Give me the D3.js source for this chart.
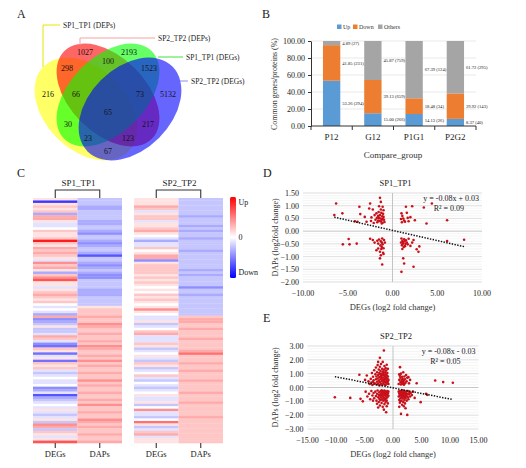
<!DOCTYPE html>
<html>
<head>
<meta charset="utf-8">
<script src="https://cdn.jsdelivr.net/npm/d3@7"></script>
<style>
  body { margin: 0; background: #fff; }
  svg { display: block; font-family: "Liberation Serif", "Times New Roman", serif; }
</style>
</head>
<body>
<script>
// ---------- A: venn ----------
var vennSets = ["SP1_TP1 (DEPs)", "SP2_TP2 (DEPs)", "SP1_TP1 (DEGs)", "SP2_TP2 (DEGs)"];
// membership flags in order yellow, red, green, blue
var vennKeys   = ["1000", "0100", "0010", "0001", "1100", "0110", "0011", "1010", "1110", "0111", "1111", "1011", "0101", "1101", "1001"];
var vennCounts = [216, 1027, 2193, 5132, 298, 100, 1523, 30, 66, 73, 65, 23, 217, 123, 67];

// ---------- B: stacked bars ----------
var groups    = ["P12", "G12", "P1G1", "P2G2"];
var upPct     = [53.26, 15.00, 14.13, 8.37];
var upN       = [294, 266, 26, 40];
var downPct   = [41.85, 39.13, 18.48, 29.92];
var downN     = [231, 659, 34, 143];
var othersPct = [4.89, 45.87, 67.39, 61.72];
var othersN   = [27, 759, 124, 295];
var pctTicks  = [0, 20, 40, 60, 80, 100];

// ---------- C: heatmaps (log2 fold change levels) ----------
var sp1DEGs = [1,-7,1,2,1,2,-3,3,3,1, -1,-1,0,2,1,1,2,8,2,1, 3,2,3,2,1,-1,4,2,3,1, -3,2,4,6,1,1,-1,1,2,3,
               2,1,2,0,-1,0,-1,-3,3,-4, -3,-2,1,-2,-2,-1,3,2,-1,-4, -5,2,1,-5,-1,1,-5,2,1,2, -1,-2,-1,0,-1,-1,0,-4,-3,-1,
               -6,-3,-2,-1,0,-1,1,-1,-2,-1, 1,-2,4,3,-2,2,1,-1,1,6];
var sp1DAPs = [-2,-2,-2,-3,-3,-2,-2,-2,-2,-3, -3,-2,-2,-3,-4,-2,-2,-3,-4,-3, -2,-2,-3,-6,-2,-2,-3,-4,-3,-2,
               -3,-4,-4,-2,-2,-2,-2,-3,-3,-3, -2,-2,-2,-2, 1,2,2,2,3,2,2,4, 3,2,2,3,2,2,3,2,4,3,
               2,2,3,2,4,2,3,2,2,3, 2,2,4,2,3,2,2,3,2,2, 3,2,4,2,2,3,2,2,4,3, 2,3,2,2,3,2,2,3];
var sp2DEGs = [1,1,1,3,2,-1,1,2,2,-1, 1,1,2,3,1,0,-1,-3,-1,-1, 2,0,1,3,3,-4,1,2,2,2, 2,1,2,1,2,1,0,1,0,2,
               1,2,1,0,1,4,1,0,-1,-1, 1,-2,-1,0,2,3,-1,-1,-1,2, 1,-2,-1,0,1,-1,-2,2,1,-2, -1,0,2,-1,-2,0,-1,-2,-1,0,
               1,-1,-1,1,-2,0,4,-1,-1,-2, 0,5,1,-2,-1,2,3,-1,1,1];
var sp2DAPs = [-2,-2,-2,-2,-2,-2,-2,-3,-2,-2, -2,-3,-2,-3,-2,-2,-3,-2,-2,-2, -2,-3,-2,-2,-2,-2,-2,-2,-2,-3,
               -2,-3,-2,-2,-2,-2,-4,-2,-2,-3, -2,-2,-2,-2,-2,-2,-2,-2, 2,3,3,2,2,3,2,2,2,3,
               2,2,2,2,3,5,2,2,2,3, 2,2,3,2,2,2,3,2,2,2, 2,3,2,2,2,3,2,2,2,2, 2,3,2,2,2,2,2,2,2,2, 2,2];

// ---------- D / E: scatter (DEGs log2FC, DAPs log2FC) ----------
var sp1Points = [
  [-6.3,1.09],[-6.5,0.63],[-5.6,0.70],[-4.2,0.39],[-3.9,0.37],[-3.6,0.67],[-3.7,0.96],[-2.5,1.09],[-2.6,0.89],[-2.2,0.85],
  [-2.9,0.37],[-3.1,0.56],[-2.35,0.54],[-2.0,0.63],[-1.4,1.31],[-1.3,1.15],[-1.5,0.98],[-1.1,0.96],[-1.8,0.70],[-1.4,0.63],
  [-1.0,0.56],[-1.2,0.45],[-1.6,0.42],[-1.3,0.38],[-1.1,0.33],[-1.5,0.52],[-1.7,0.35],[-1.25,0.72],[-1.05,0.68],[-0.95,0.45],
  [-1.35,0.50],[-1.15,0.58],[-1.45,0.40],[-1.0,0.82],[-1.6,0.60],[-1.9,0.45],[-2.1,0.32],[-1.2,0.30],[-0.9,0.36],[-1.3,0.85],
  [-1.55,0.75],[-1.75,0.52],[-2.4,0.40],[-1.1,0.48],
  [1.5,0.96],[2.2,0.98],[1.0,0.70],[1.6,0.72],[1.2,0.50],[1.8,0.39],[1.4,0.37],[2.5,0.43],[3.8,0.30],[6.1,0.43],
  [4.4,1.09],[3.5,0.93],[1.1,0.60],[1.3,0.42],[2.0,0.55],[1.05,0.35],[0.95,0.48],[1.7,0.52],
  [-5.55,-0.52],[-4.9,-0.31],[-4.8,-0.52],[-4.0,-0.49],[-2.2,-0.35],[-2.0,-0.45],[-1.6,-0.49],[-1.8,-0.75],[-1.4,-0.81],[-1.2,-0.62],
  [-1.15,-0.29],[-1.4,-1.07],[-1.15,-1.31],[-1.0,-0.67],[-0.85,-0.45],[-1.3,-0.40],[-1.5,-0.33],[-1.1,-0.52],[-1.25,-0.70],[-1.05,-0.85],
  [-1.7,-0.38],[-1.35,-0.56],[-0.95,-0.35],[-1.2,-0.45],[-2.5,-0.30],[-1.6,-0.68],[-1.0,-0.90],[-1.3,-0.95],
  [1.0,-0.29],[1.2,-0.49],[1.6,-0.45],[1.4,-0.59],[2.35,-0.35],[2.0,-0.58],[2.7,-0.71],[2.9,-0.81],[3.0,-0.60],[1.2,-1.07],
  [1.3,-1.27],[1.0,-1.60],[2.35,-1.40],[6.1,-0.39],[8.0,-0.34],[1.1,-0.38],[1.3,-0.32],[1.05,-0.55],[1.5,-0.36],[1.15,-0.44],
  [1.25,-0.62],[1.7,-0.52],[1.35,-0.40],[0.95,-0.45],[1.8,-0.30],[1.1,-0.70],[2.2,-0.45],[1.45,-0.50]
];
var sp2Points = [
  [-4.6,0.87],[-4.3,0.45],[-4.1,0.25],[-3.9,0.62],[-3.8,0.35],[-3.7,1.05],[-3.6,0.18],[-3.5,0.78],[-3.4,0.52],[-3.3,1.25],
  [-3.2,0.30],[-3.1,0.95],[-3.0,0.60],[-3.0,1.45],[-2.9,0.22],[-2.9,0.80],[-2.8,1.10],[-2.8,0.42],[-2.7,0.65],[-2.7,1.62],
  [-2.6,0.28],[-2.6,0.90],[-2.5,1.30],[-2.5,0.50],[-2.4,0.15],[-2.4,0.75],[-2.4,1.05],[-2.3,2.15],[-2.3,0.38],[-2.3,1.50],
  [-2.2,0.60],[-2.2,0.95],[-2.2,1.20],[-2.1,0.25],[-2.1,0.82],[-2.1,1.70],[-2.0,0.45],[-2.0,1.00],[-2.0,0.68],[-1.9,1.35],
  [-1.9,0.20],[-1.9,0.88],[-1.8,0.55],[-1.8,1.15],[-1.8,1.85],[-1.7,0.32],[-1.7,0.72],[-1.7,1.02],[-1.6,2.68],[-1.6,0.48],
  [-1.6,1.28],[-1.6,0.90],[-1.5,0.22],[-1.5,0.62],[-1.5,1.55],[-1.4,0.40],[-1.4,0.80],[-1.4,1.10],[-1.3,0.18],[-1.3,0.58],
  [-1.3,0.95],[-1.3,1.40],[-1.2,0.35],[-1.2,0.70],[-1.2,1.22],[-1.1,0.50],[-1.1,0.88],[-1.1,1.65],[-1.0,0.28],[-1.0,0.65],
  [-1.0,1.05],[-0.9,0.42],[-0.9,0.80],[-0.9,1.35],[-0.8,0.55],[-0.8,0.25],[-5.9,0.92],[-4.9,0.55],[-2.6,1.85],[-3.5,0.40],
  [-10.2,-0.70],[-7.5,-0.75],[-5.7,-0.82],[-5.3,-1.00],[-4.8,-0.30],[-4.5,-0.65],[-4.2,-0.45],[-4.0,-0.85],[-3.8,-0.25],[-3.6,-0.58],
  [-3.4,-0.40],[-3.3,-0.78],[-3.1,-0.30],[-3.0,-0.62],[-2.9,-0.95],[-2.8,-1.18],[-2.8,-0.45],[-2.7,-0.22],[-2.6,-0.70],[-2.5,-0.52],
  [-2.5,-1.05],[-2.4,-0.35],[-2.4,-0.82],[-2.3,-1.30],[-2.3,-0.60],[-2.2,-0.28],[-2.2,-0.92],[-2.1,-0.48],[-2.1,-0.72],[-2.0,-0.20],
  [-2.0,-1.12],[-2.0,-0.58],[-1.9,-0.38],[-1.9,-0.85],[-1.8,-0.65],[-1.8,-0.25],[-1.8,-1.40],[-1.7,-0.50],[-1.7,-0.95],[-1.6,-0.32],
  [-1.6,-0.75],[-1.5,-0.55],[-1.5,-1.20],[-1.5,-0.22],[-1.4,-0.42],[-1.4,-0.88],[-1.3,-0.62],[-1.3,-0.30],[-1.3,-1.05],[-1.2,-1.79],
  [-1.2,-0.48],[-1.2,-0.78],[-1.1,-0.35],[-1.1,-0.95],[-1.1,-1.35],[-1.0,-0.55],[-1.0,-0.25],[-1.0,-0.70],[-0.9,-0.42],[-0.9,-1.15],
  [-0.8,-0.60],[-0.8,-0.30],[-3.5,-0.95],[-2.6,-1.45],[-1.6,-1.60],
  [1.0,0.25],[1.1,0.55],[1.2,0.85],[1.23,1.47],[1.3,0.40],[1.3,0.70],[1.4,0.22],[1.4,1.00],[1.5,0.55],[1.5,0.32],
  [1.6,0.78],[1.6,0.45],[1.7,0.28],[1.7,0.62],[1.8,1.10],[1.8,0.38],[1.9,0.50],[2.0,0.80],[2.0,0.25],[2.1,0.60],
  [2.2,0.35],[2.3,0.90],[2.4,0.45],[2.5,0.70],[2.7,0.75],[2.8,0.30],[3.0,0.55],[4.15,0.31],[7.4,0.51],[8.8,0.39],
  [10.5,0.34],[1.1,0.95],[1.9,0.20],
  [1.0,-0.30],[1.0,-0.65],[1.1,-0.45],[1.1,-0.90],[1.2,-0.25],[1.2,-0.60],[1.2,-1.10],[1.3,-0.40],[1.3,-0.78],[1.4,-1.91],
  [1.4,-0.52],[1.4,-0.30],[1.5,-0.95],[1.5,-0.68],[1.6,-0.38],[1.6,-0.55],[1.6,-1.25],[1.7,-0.22],[1.7,-0.80],[1.8,-0.48],
  [1.8,-0.62],[1.8,-1.05],[1.9,-0.35],[1.9,-0.72],[2.0,-0.50],[2.0,-0.90],[2.0,-0.28],[2.1,-0.65],[2.1,-1.15],[2.2,-0.42],
  [2.2,-0.78],[2.3,-0.55],[2.3,-0.30],[2.4,-0.95],[2.4,-0.62],[2.5,-1.98],[2.5,-0.45],[2.6,-0.70],[2.6,-0.25],[2.7,-0.85],
  [2.8,-0.50],[2.9,-0.35],[3.0,-0.65],[3.1,-0.40],[3.3,-0.55],[3.5,-0.30],[4.85,-1.06],[6.0,-0.53],[5.8,-0.45],[1.1,-1.40],
  [1.3,-1.00],[1.9,-1.35],[2.2,-1.50],[1.6,-0.20],[3.8,-0.75]
];
var sp1Fit = [-0.08, 0.03], sp1R2 = 0.09;
var sp2Fit = [-0.08, -0.03], sp2R2 = 0.05;
var sp1XTicks = [-10, -5, 0, 5, 10];
var sp1YTicks = [-2, -1.5, -1, -0.5, 0, 0.5, 1, 1.5];
var sp2XTicks = [-15, -10, -5, 0, 5, 10, 15];
var sp2YTicks = [-3, -2, -1, 0, 1, 2, 3];

var fmt2 = d3.format(".2f");
var serif = "'Liberation Serif', 'Times New Roman', serif";

var svg = d3.select("body").append("svg")
    .attr("width", 526)
    .attr("height", 468)
    .attr("font-family", serif);

// panel letters
[["A", 17, 18], ["B", 262, 18], ["C", 17, 177], ["D", 263, 177], ["E", 263, 322]].forEach(function(l) {
  svg.append("text").attr("x", l[1]).attr("y", l[2])
     .attr("font-size", 12).attr("fill", "#222").text(l[0]);
});

// ===== A =====
var ells = [
  {cx: 86,  cy: 109, a: 60, b: 41, rot: 45,  col: "#ffff00"},
  {cx: 108, cy: 95,  a: 62, b: 38, rot: 45,  col: "#ff0000"},
  {cx: 108, cy: 95,  a: 62, b: 38, rot: -45, col: "#00ff00"},
  {cx: 130, cy: 109, a: 60, b: 41, rot: -45, col: "#0000ff"}
];
var gA = svg.append("g");
gA.selectAll("ellipse").data(ells).enter().append("ellipse")
  .attr("cx", 0).attr("cy", 0)
  .attr("rx", function(d) { return d.a; })
  .attr("ry", function(d) { return d.b; })
  .attr("transform", function(d) { return "translate(" + d.cx + "," + d.cy + ") rotate(" + d.rot + ")"; })
  .attr("fill", function(d) { return d.col; })
  .attr("fill-opacity", 0.6);

function inside(e, x, y) {
  var t = e.rot * Math.PI / 180, dx = x - e.cx, dy = y - e.cy;
  var u = dx * Math.cos(t) + dy * Math.sin(t), v = -dx * Math.sin(t) + dy * Math.cos(t);
  return (u * u) / (e.a * e.a) + (v * v) / (e.b * e.b) <= 1;
}
// place each count at the deepest point of its region (chamfer distance on a grid)
var GX0 = 20, GY0 = 30, GW = 180, GH = 145;
var keyAt = [], dist = [];
for (var j = 0; j < GH; j++) {
  for (var i = 0; i < GW; i++) {
    keyAt.push(ells.map(function(e) { return inside(e, GX0 + i, GY0 + j) ? "1" : "0"; }).join(""));
  }
}
for (var n = 0; n < GW * GH; n++) {
  var ci = n % GW, cj = Math.floor(n / GW), edge = ci === 0 || cj === 0 || ci === GW - 1 || cj === GH - 1;
  if (!edge) edge = keyAt[n - 1] !== keyAt[n] || keyAt[n + 1] !== keyAt[n] || keyAt[n - GW] !== keyAt[n] || keyAt[n + GW] !== keyAt[n];
  dist.push(edge ? 0 : 1e9);
}
function relax(n, m, w) { if (dist[m] + w < dist[n]) dist[n] = dist[m] + w; }
for (var j = 1; j < GH - 1; j++) for (var i = 1; i < GW - 1; i++) {
  var n = j * GW + i;
  relax(n, n - 1, 1); relax(n, n - GW, 1); relax(n, n - GW - 1, 1.414); relax(n, n - GW + 1, 1.414);
}
for (var j = GH - 2; j > 0; j--) for (var i = GW - 2; i > 0; i--) {
  var n = j * GW + i;
  relax(n, n + 1, 1); relax(n, n + GW, 1); relax(n, n + GW + 1, 1.414); relax(n, n + GW - 1, 1.414);
}
var best = {};
keyAt.forEach(function(k, n) {
  if (!best[k] || dist[n] > best[k].d) best[k] = {d: dist[n], x: GX0 + n % GW, y: GY0 + Math.floor(n / GW)};
});
gA.selectAll("text.cnt").data(vennKeys).enter().append("text")
  .attr("class", "cnt")
  .attr("x", function(k) { return best[k].x; })
  .attr("y", function(k) { return best[k].y + 3; })
  .attr("text-anchor", "middle").attr("font-size", 8).attr("fill", "#151515")
  .text(function(k, i) { return vennCounts[i]; });

var leaders = [
  {path: "M60,25H43V67", col: "#e6e600", tx: 63, ty: 28},
  {path: "M155,38H80V45", col: "#f4a3a3", tx: 158, ty: 41},
  {path: "M158,57H183", col: "#3ee03e", tx: 186, ty: 60},
  {path: "M180,81H188", col: "#8c8cf2", tx: 191, ty: 84}
];
leaders.forEach(function(l, i) {
  gA.append("path").attr("d", l.path).attr("fill", "none").attr("stroke", l.col).attr("stroke-width", 1);
  gA.append("text").attr("x", l.tx).attr("y", l.ty).attr("font-size", 7.5).attr("fill", "#222").text(vennSets[i]);
});

// ===== B =====
var gB = svg.append("g");
var bx = d3.scaleBand().domain(groups).range([311, 476]).paddingInner(0.58).paddingOuter(0.29);
var by = d3.scaleLinear().domain([0, 100]).range([126, 41]);
var barCols = {Up: "#5b9bd5", Down: "#ed7d31", Others: "#a5a5a5"};
var barKeys = ["Up", "Down", "Others"];
var barPct = {Up: upPct, Down: downPct, Others: othersPct};
var barN = {Up: upN, Down: downN, Others: othersN};
var table = groups.map(function(g, i) { return {group: g, Up: upPct[i], Down: downPct[i], Others: othersPct[i]}; });

gB.selectAll("line.grid").data(pctTicks.slice(1)).enter().append("line")
  .attr("x1", 311).attr("x2", 476)
  .attr("y1", function(d) { return by(d); }).attr("y2", function(d) { return by(d); })
  .attr("stroke", "#e3e3e3").attr("stroke-width", 0.8);

var layers = d3.stack().keys(barKeys)(table);
layers.forEach(function(layer) {
  var key = layer.key;
  gB.selectAll("rect." + key).data(layer).enter().append("rect")
    .attr("x", function(d) { return bx(d.data.group); })
    .attr("width", bx.bandwidth())
    .attr("y", function(d) { return by(d[1]); })
    .attr("height", function(d) { return by(d[0]) - by(d[1]); })
    .attr("fill", barCols[key]);
  gB.selectAll("text." + key).data(layer).enter().append("text")
    .attr("x", function(d) { return bx(d.data.group) + bx.bandwidth() + 2; })
    .attr("y", function(d) { return by((d[0] + d[1]) / 2) + 1.6; })
    .attr("font-size", 4.6).attr("fill", "#222")
    .text(function(d, i) { return fmt2(barPct[key][i]) + " (" + barN[key][i] + ")"; });
});

var yAxB = gB.append("g").attr("transform", "translate(311,0)")
  .call(d3.axisLeft(by).tickValues(pctTicks).tickFormat(fmt2).tickSize(3).tickSizeOuter(0))
  .attr("font-family", serif);
yAxB.selectAll("text").attr("font-size", 8).attr("fill", "#222");
yAxB.selectAll("line, path").attr("stroke", "#333");

gB.append("line").attr("x1", 311).attr("x2", 476).attr("y1", 126).attr("y2", 126).attr("stroke", "#333");
gB.selectAll("line.xt").data(d3.range(groups.length + 1)).enter().append("line")
  .attr("x1", function(i) { return 311 + i * bx.step(); })
  .attr("x2", function(i) { return 311 + i * bx.step(); })
  .attr("y1", 126).attr("y2", 130).attr("stroke", "#333");
gB.selectAll("text.xl").data(groups).enter().append("text")
  .attr("x", function(g) { return bx(g) + bx.bandwidth() / 2; }).attr("y", 140)
  .attr("text-anchor", "middle").attr("font-size", 9).attr("fill", "#222").text(function(g) { return g; });
gB.append("text").attr("x", 393).attr("y", 158).attr("text-anchor", "middle")
  .attr("font-size", 9).attr("fill", "#333").text("Compare_group");
gB.append("text").attr("transform", "translate(277,84) rotate(-90)").attr("text-anchor", "middle")
  .attr("font-size", 8).attr("fill", "#333").text("Common genes/proteins (%)");

var lgX = [337, 353, 378];
barKeys.forEach(function(k, i) {
  gB.append("rect").attr("x", lgX[i]).attr("y", 24.5).attr("width", 4.5).attr("height", 4.5).attr("fill", barCols[k]);
  gB.append("text").attr("x", lgX[i] + 6).attr("y", 29).attr("font-size", 6).attr("fill", "#333").text(k);
});

// ===== C =====
var gC = svg.append("g");
var heatColor = d3.scaleLinear().domain([-9, 0, 9]).range(["#0000ff", "#ffffff", "#ff0000"]).clamp(true);
var rowIdx = d3.range(sp1DEGs.length);
var hy = d3.scaleBand().domain(rowIdx).range([198, 443]);
function heatmap(x0, x1, title, cols) {
  var hx = d3.scaleBand().domain(["DEGs", "DAPs"]).range([x0, x1]);
  var g = gC.append("g");
  cols.forEach(function(vals, c) {
    var name = hx.domain()[c];
    g.selectAll("rect.c" + c).data(vals).enter().append("rect")
      .attr("x", hx(name)).attr("width", hx.bandwidth())
      .attr("y", function(d, i) { return hy(i); }).attr("height", hy.bandwidth() + 0.3)
      .attr("fill", function(d) { return heatColor(d); });
  });
  var c0 = hx("DEGs") + hx.bandwidth() / 2, c1 = hx("DAPs") + hx.bandwidth() / 2;
  g.append("path").attr("d", "M" + c0 + ",198V190H" + c1 + "V198")
    .attr("fill", "none").attr("stroke", "#333").attr("stroke-width", 1.1);
  g.append("text").attr("x", (c0 + c1) / 2 + 1).attr("y", 186).attr("text-anchor", "middle")
    .attr("font-size", 9).attr("fill", "#222").text(title);
  hx.domain().forEach(function(n) {
    var cx = hx(n) + hx.bandwidth() / 2;
    g.append("line").attr("x1", cx).attr("x2", cx).attr("y1", 443).attr("y2", 448).attr("stroke", "#333").attr("stroke-width", 1.1);
    g.append("text").attr("x", cx).attr("y", 457).attr("text-anchor", "middle")
      .attr("font-size", 8.5).attr("fill", "#222").text(n);
  });
}
heatmap(33, 122, "SP1_TP1", [sp1DEGs, sp1DAPs]);
heatmap(134, 223, "SP2_TP2", [sp2DEGs, sp2DAPs]);

var grad = svg.append("defs").append("linearGradient").attr("id", "hg")
  .attr("x1", 0).attr("x2", 0).attr("y1", 0).attr("y2", 1);
[[0, "#ff0000"], [0.5, "#ffffff"], [1, "#0000ff"]].forEach(function(s) {
  grad.append("stop").attr("offset", s[0]).attr("stop-color", s[1]);
});
gC.append("rect").attr("x", 230).attr("y", 197).attr("width", 6).attr("height", 81).attr("rx", 1.5).attr("fill", "url(#hg)");
[["Up", 205], ["0", 240], ["Down", 275]].forEach(function(t) {
  gC.append("text").attr("x", 238.5).attr("y", t[1]).attr("font-size", 8).attr("fill", "#222").text(t[0]);
});

// ===== D / E =====
function scatter(cfg) {
  var g = svg.append("g");
  var x = d3.scaleLinear().domain(d3.extent(cfg.xTicks)).range([cfg.x0, cfg.x1]);
  var y = d3.scaleLinear().domain(d3.extent(cfg.yTicks)).range([cfg.y1, cfg.y0]);
  var yd = y.domain();
  var minor = d3.range(yd[0], yd[1] + 1e-9, cfg.minor);
  g.selectAll("line.mn").data(minor).enter().append("line")
    .attr("x1", cfg.x0).attr("x2", cfg.x1)
    .attr("y1", function(d) { return y(d); }).attr("y2", function(d) { return y(d); })
    .attr("stroke", "#eeeeee").attr("stroke-width", 0.6);
  g.selectAll("line.mj").data(cfg.yTicks).enter().append("line")
    .attr("x1", cfg.x0).attr("x2", cfg.x1)
    .attr("y1", function(d) { return y(d); }).attr("y2", function(d) { return y(d); })
    .attr("stroke", function(d) { return d === 0 ? "#bdbdbd" : "#dcdcdc"; }).attr("stroke-width", 0.8);
  g.append("line").attr("x1", x(0)).attr("x2", x(0)).attr("y1", cfg.y0).attr("y2", cfg.y1)
    .attr("stroke", "#bdbdbd").attr("stroke-width", 0.9);

  g.selectAll("text.yl").data(cfg.yTicks).enter().append("text")
    .attr("x", cfg.x0 - 4).attr("y", function(d) { return y(d) + 3; })
    .attr("text-anchor", "end").attr("font-size", 8).attr("fill", "#222").text(fmt2);
  g.selectAll("text.xl").data(cfg.xTicks).enter().append("text")
    .attr("x", function(d) { return x(d); }).attr("y", cfg.y1 + 14)
    .attr("text-anchor", "middle").attr("font-size", 8).attr("fill", "#222").text(fmt2);

  g.selectAll("circle").data(cfg.points).enter().append("circle")
    .attr("cx", function(d) { return x(d[0]); }).attr("cy", function(d) { return y(d[1]); })
    .attr("r", 1.3).attr("fill", "#c8101a");

  var ex = d3.extent(cfg.points, function(d) { return d[0]; });
  var f = function(v) { return cfg.fit[0] * v + cfg.fit[1]; };
  g.append("line").attr("x1", x(ex[0])).attr("y1", y(f(ex[0]))).attr("x2", x(ex[1])).attr("y2", y(f(ex[1])))
    .attr("stroke", "#111").attr("stroke-width", 1.5).attr("stroke-dasharray", "1.4,1.4");

  var sign = cfg.fit[1] < 0 ? " - " : " + ";
  g.append("text").attr("x", cfg.x1 - 3).attr("y", cfg.y0 + 8).attr("text-anchor", "end")
    .attr("font-size", 8).attr("fill", "#222")
    .text("y = " + cfg.fit[0].toFixed(2) + "x" + sign + Math.abs(cfg.fit[1]).toFixed(2));
  g.append("text").attr("x", cfg.x1 - 18).attr("y", cfg.y0 + 18).attr("text-anchor", "end")
    .attr("font-size", 8).attr("fill", "#222").text("R² = " + cfg.r2.toFixed(2));

  g.append("text").attr("x", x(0) + 3).attr("y", cfg.y0 - 7).attr("text-anchor", "middle")
    .attr("font-size", 8.5).attr("fill", "#222").text(cfg.title);
  g.append("text").attr("x", x(0)).attr("y", cfg.y1 + 28).attr("text-anchor", "middle")
    .attr("font-size", 8.5).attr("fill", "#333").text("DEGs (log2 fold change)");
  g.append("text").attr("transform", "translate(278," + ((cfg.y0 + cfg.y1) / 2) + ") rotate(-90)")
    .attr("text-anchor", "middle").attr("font-size", 8).attr("fill", "#333").text(cfg.yTitle);
}
scatter({title: "SP1_TP1", points: sp1Points, fit: sp1Fit, r2: sp1R2, xTicks: sp1XTicks, yTicks: sp1YTicks,
         minor: 0.1, x0: 303, x1: 482, y0: 193, y1: 282, yTitle: "DAPs (log2fold change)"});
scatter({title: "SP2_TP2", points: sp2Points, fit: sp2Fit, r2: sp2R2, xTicks: sp2XTicks, yTicks: sp2YTicks,
         minor: 0.2, x0: 307.5, x1: 478.5, y0: 346, y1: 429, yTitle: "DAPs (log2 fold change)"});
</script>
</body>
</html>
